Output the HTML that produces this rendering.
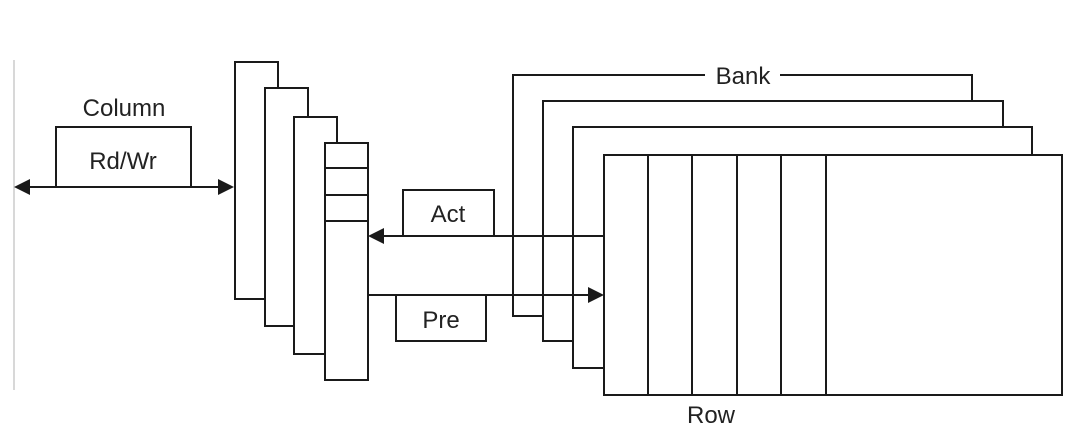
<!DOCTYPE html>
<html><head><style>html,body{margin:0;padding:0;background:#fff;}</style></head>
<body>
<svg width="1066" height="440" viewBox="0 0 1066 440" xmlns="http://www.w3.org/2000/svg" font-family="Liberation Sans, sans-serif" font-size="24" fill="none" stroke="#1a1a1a" stroke-width="2">
<line x1="14" y1="60" x2="14" y2="390" stroke="#ccc" stroke-width="1.5"/>
<text x="124" y="116" fill="#222" stroke="none" text-anchor="middle">Column</text>
<polyline points="56,187 56,127 191,127 191,187"/>
<text x="123" y="169" fill="#222" stroke="none" text-anchor="middle">Rd/Wr</text>
<line x1="26" y1="187" x2="222" y2="187"/>
<polygon points="14,187 30,179 30,195" fill="#1a1a1a" stroke="none"/>
<polygon points="234,187 218,179 218,195" fill="#1a1a1a" stroke="none"/>
<polyline points="265,299 235,299 235,62 278,62 278,88"/>
<polyline points="294,326 265,326 265,88 308,88 308,117"/>
<polyline points="325,354 294,354 294,117 337,117 337,143"/>
<rect x="325" y="143" width="43" height="237" fill="#fff"/>
<line x1="325" y1="168" x2="368" y2="168"/>
<line x1="325" y1="195" x2="368" y2="195"/>
<line x1="325" y1="221" x2="368" y2="221"/>
<polyline points="543,316 513,316 513,75 705,75"/>
<polyline points="780,75 972,75 972,101"/>
<text x="743" y="84" fill="#222" stroke="none" text-anchor="middle">Bank</text>
<polyline points="573,341 543,341 543,101 1003,101 1003,127"/>
<polyline points="604,368 573,368 573,127 1032,127 1032,155"/>
<rect x="604" y="155" width="458" height="240"/>
<line x1="648" y1="155" x2="648" y2="395"/>
<line x1="692" y1="155" x2="692" y2="395"/>
<line x1="737" y1="155" x2="737" y2="395"/>
<line x1="781" y1="155" x2="781" y2="395"/>
<line x1="826" y1="155" x2="826" y2="395"/>
<text x="711" y="423" fill="#222" stroke="none" text-anchor="middle">Row</text>
<polyline points="403,236 403,190 494,190 494,236"/>
<text x="448" y="222" fill="#222" stroke="none" text-anchor="middle">Act</text>
<line x1="380" y1="236" x2="604" y2="236"/>
<polygon points="368,236 384,228 384,244" fill="#1a1a1a" stroke="none"/>
<line x1="368" y1="295" x2="592" y2="295"/>
<polygon points="604,295 588,287 588,303" fill="#1a1a1a" stroke="none"/>
<polyline points="396,295 396,341 486,341 486,295"/>
<text x="441" y="328" fill="#222" stroke="none" text-anchor="middle">Pre</text>
</svg>
</body></html>
